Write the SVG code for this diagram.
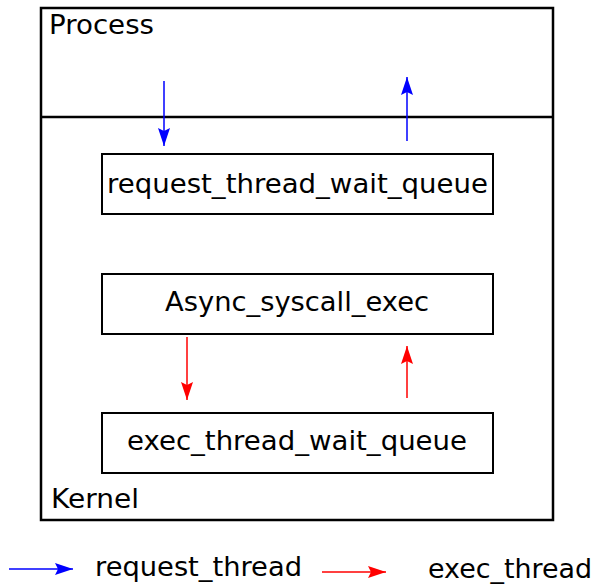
<svg xmlns="http://www.w3.org/2000/svg" width="595" height="584" viewBox="0 0 595 584">
<style>
text{font-family:"DejaVu Sans","Noto Sans",sans-serif;font-size:26px;fill:#000}
.box{fill:#fff;stroke:#000;stroke-width:2}
.b{stroke:#00f;stroke-width:1.5;fill:none}
.r{stroke:#f00;stroke-width:1.5;fill:none}
</style>
<defs>
<marker id="hb" viewBox="0 0 18 12" refX="18" refY="6" markerWidth="18" markerHeight="12" markerUnits="userSpaceOnUse" orient="auto"><path d="M0,0L18,6L0,12L3,6Z" fill="#00f"/></marker>
<marker id="hr" viewBox="0 0 18 12" refX="18" refY="6" markerWidth="18" markerHeight="12" markerUnits="userSpaceOnUse" orient="auto"><path d="M0,0L18,6L0,12L3,6Z" fill="#f00"/></marker>
</defs>
<g id="frame">
<rect x="41" y="8" width="512" height="512" fill="#fff" stroke="#000" stroke-width="2.5"/>
<line x1="41" y1="117" x2="553" y2="117" stroke="#000" stroke-width="2.5"/>
<text x="49" y="34" textLength="105" lengthAdjust="spacingAndGlyphs">Process</text>
<text x="51" y="508" textLength="88" lengthAdjust="spacingAndGlyphs">Kernel</text>
</g>
<g id="request_thread_wait_queue">
<rect class="box" x="102" y="154" width="391" height="60"/>
<text x="297.5" y="193" text-anchor="middle" textLength="381" lengthAdjust="spacingAndGlyphs">request_thread_wait_queue</text>
</g>
<g id="async_syscall_exec">
<rect class="box" x="102" y="274" width="391" height="60"/>
<text x="297" y="311" text-anchor="middle" textLength="264" lengthAdjust="spacingAndGlyphs">Async_syscall_exec</text>
</g>
<g id="exec_thread_wait_queue">
<rect class="box" x="102" y="413" width="391" height="60"/>
<text x="297" y="450" text-anchor="middle" textLength="340" lengthAdjust="spacingAndGlyphs">exec_thread_wait_queue</text>
</g>
<g id="connectors">
<line class="b" x1="164" y1="81" x2="164" y2="146" marker-end="url(#hb)"/>
<line class="b" x1="407" y1="141" x2="407" y2="77" marker-end="url(#hb)"/>
<line class="r" x1="187" y1="337" x2="187" y2="400" marker-end="url(#hr)"/>
<line class="r" x1="407" y1="398" x2="407" y2="346" marker-end="url(#hr)"/>
</g>
<g id="legend">
<line class="b" x1="9" y1="569" x2="73" y2="569" marker-end="url(#hb)"/>
<text x="95" y="576" textLength="207" lengthAdjust="spacingAndGlyphs">request_thread</text>
<line class="r" x1="322" y1="572" x2="386" y2="572" marker-end="url(#hr)"/>
<text x="428" y="578" textLength="164" lengthAdjust="spacingAndGlyphs">exec_thread</text>
</g>
</svg>
